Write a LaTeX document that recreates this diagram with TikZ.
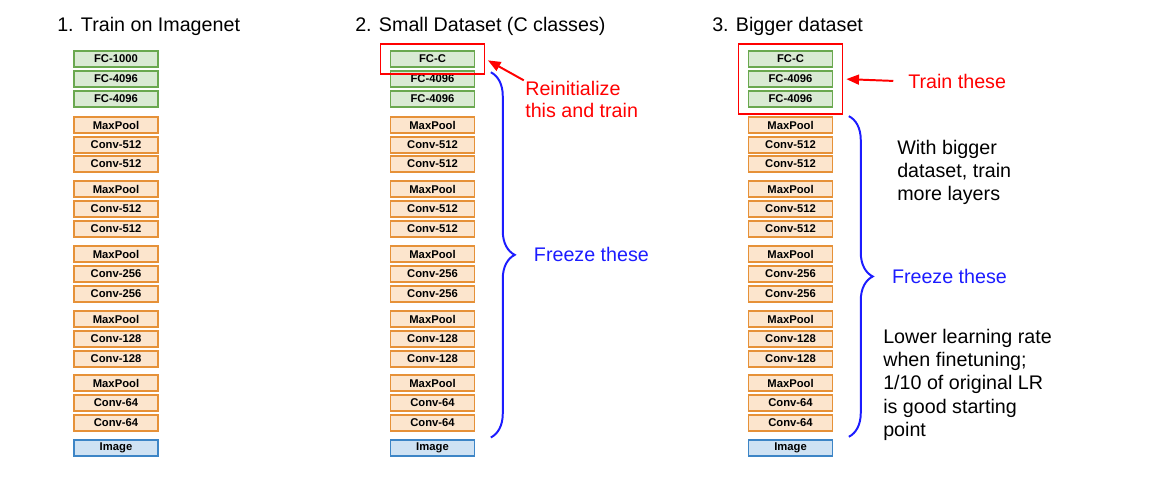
\documentclass[tikz,border=0pt]{standalone}
\usepackage{fontspec}
\setmainfont{Liberation Sans}
\usetikzlibrary{arrows.meta,fit,decorations.pathreplacing}
\definecolor{fcline}{HTML}{6AA84F}
\definecolor{fcfill}{HTML}{D9EAD3}
\definecolor{convline}{HTML}{E69138}
\definecolor{convfill}{HTML}{FCE5CD}
\definecolor{imgline}{HTML}{3D85C6}
\definecolor{imgfill}{HTML}{CFE2F3}
\definecolor{frzblue}{HTML}{1C1CFF}

\begin{document}
\begin{tikzpicture}[
  x=0.025cm,y=-0.025cm,
  layer/.style={draw,line width=1.2pt,minimum width=2.1cm,minimum height=0.4cm,inner sep=0pt,font=\bfseries\fontsize{8}{9}\selectfont},
  fclayer/.style={layer,draw=fcline,fill=fcfill},
  convlayer/.style={layer,draw=convline,fill=convfill},
  imglayer/.style={layer,draw=imgline,fill=imgfill},
  heading/.style={anchor=base west,inner sep=0pt,font=\fontsize{14}{17}\selectfont},
  note/.style={anchor=north west,inner sep=0pt,align=left,font=\fontsize{14}{16.5}\selectfont},
  trainbox/.style={draw=red,line width=1.4pt,inner xsep=6.5pt,inner ysep=4.5pt},
  redarrow/.style={-{Triangle[length=9pt,width=7pt]},line width=1.4pt,red,shorten >=2pt},
  freezebrace/.style={draw=frzblue,line width=1.4pt,decorate,decoration={brace,amplitude=17pt}},
  freezetext/.style={anchor=west,xshift=30pt,inner sep=0pt,text=frzblue,font=\fontsize{14}{17}\selectfont}]

  \useasboundingbox (0,0) rectangle (1165,492);

  % Titles of the three stages
  \node[heading] (t1) at (57,32) {1. Train on Imagenet};
  \node[heading] (t2) at (355,32) {2. Small Dataset (C classes)};
  \node[heading] (t3) at (712,32) {3. Bigger dataset};

  % The three stacks of layers
  \foreach \col/\x/\toplab in {A/116/FC-1000, B/432.5/FC-C, C/790.5/FC-C}{
    \foreach \lab/\y/\kind [count=\i] in {\toplab/59/fclayer, FC-4096/79/fclayer, FC-4096/99/fclayer,
        MaxPool/125/convlayer, Conv-512/145/convlayer, Conv-512/164/convlayer,
        MaxPool/189/convlayer, Conv-512/209/convlayer, Conv-512/229/convlayer,
        MaxPool/254/convlayer, Conv-256/274/convlayer, Conv-256/294/convlayer,
        MaxPool/319/convlayer, Conv-128/339/convlayer, Conv-128/359/convlayer,
        MaxPool/383/convlayer, Conv-64/403/convlayer, Conv-64/423/convlayer,
        Image/448/imglayer}
      \node[\kind] (\col\i) at (\x,\y) {\lab};
  }

  % Stage 2: retrain the last layer only
  \node[trainbox,fit=(B1)] (resetbox) {};
  \node[note,text=red,font=\fontsize{14}{15.8}\selectfont] (reinit) at (525,81) {Reinitialize\\this and train};
  \draw[redarrow,shorten <=1pt] (reinit.north west) -- (resetbox.east);
  \draw[freezebrace] ([xshift=11pt,yshift=-1.5pt]B2.north east) -- node[freezetext] {Freeze these} ([xshift=11pt,yshift=-4pt]B18.south east);

  % Stage 3: retrain the fully connected layers
  \node[trainbox,fit=(C1)(C3)] (fcbox) {};
  \node[note,text=red,anchor=west] (trainthese) at (908,81.5) {Train these};
  \draw[redarrow,shorten <=10.5pt] (trainthese.west) -- (fcbox.east);
  \draw[freezebrace] ([xshift=11pt]C4.north east) -- node[freezetext] {Freeze these} ([xshift=11pt,yshift=-3.5pt]C18.south east);
  \node[note] (bigger) at (897,140) {With bigger\\dataset, train\\more layers};
  \node[note] (lowerlr) at (883,329) {Lower learning rate\\when finetuning;\\1/10 of original LR\\is good starting\\point};
\end{tikzpicture}
\end{document}
